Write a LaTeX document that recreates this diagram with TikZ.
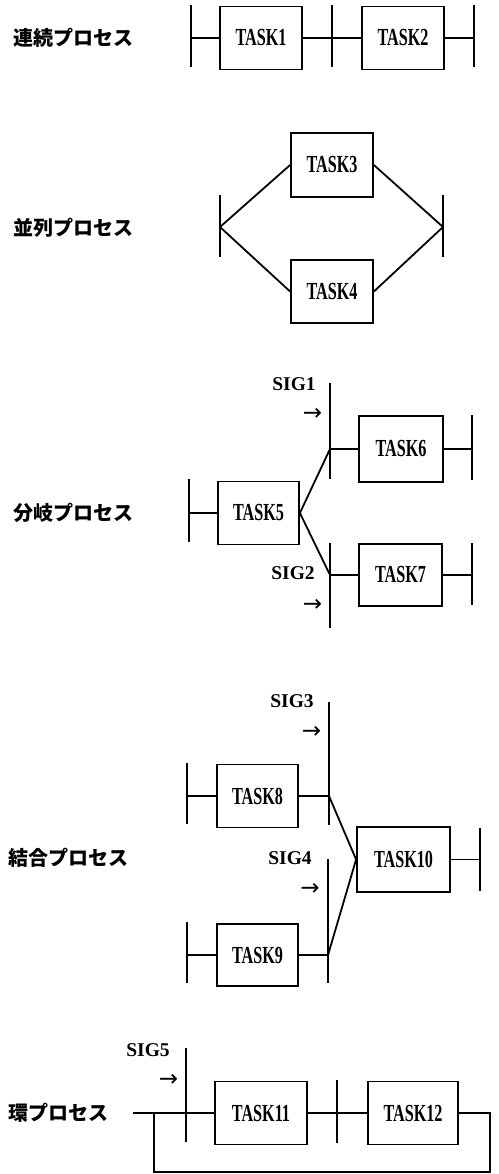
\documentclass[tikz,border=0pt]{standalone}
\usepackage{fontspec}
\usepackage{graphicx}
\newfontfamily\jpfont{Noto Sans CJK JP}
\newfontfamily\tkfont{Liberation Serif}
\newfontfamily\arfont{DejaVu Sans}
\newcommand\tk[1]{\scalebox{0.66}[1]{\tkfont\bfseries\fontsize{24.5}{24.5}\selectfont #1}}
\begin{document}
\begin{tikzpicture}[x=1pt,y=-1pt,
  box/.style={draw,line width=1.8pt,minimum width=82pt,minimum height=63pt,inner sep=0pt},
  ln/.style={line width=1.8pt},
  bar/.style={line width=2.2pt},
  lbl/.style={anchor=west,inner sep=0pt,font=\jpfont\bfseries\fontsize{20}{20}\selectfont},
  sig/.style={inner sep=0pt,font=\tkfont\bfseries\fontsize{19.5}{19.5}\selectfont},
  arr/.style={inner sep=0pt,font=\arfont\fontsize{23}{23}\selectfont}]
\useasboundingbox (0,0) rectangle (498,1174);

% ---------- 連続プロセス
\node[lbl] (L1) at (13,38) {連続プロセス};
\coordinate (a1) at (191,38);
\coordinate (a2) at (332,38);
\coordinate (a3) at (474,38);
\node[box] (t1) at (261,38) {\tk{TASK1}};
\node[box] (t2) at (403,38) {\tk{TASK2}};
\draw[bar] (a1) ++(0,-33) -- ++(0,62);
\draw[bar] (a2) ++(0,-33) -- ++(0,62);
\draw[bar] (a3) ++(0,-33) -- ++(0,62);
\draw[ln] (a1) -- (t1) -- (a2) -- (t2) -- (a3);

% ---------- 並列プロセス
\node[lbl] (L2) at (13,228) {並列プロセス};
\coordinate (p1) at (220,227);
\coordinate (p2) at (443,227);
\node[box,minimum height=64pt] (t3) at (332,165) {\tk{TASK3}};
\node[box] (t4) at (332,291.5) {\tk{TASK4}};
\draw[bar] (p1) ++(0,-32) -- ++(0,62);
\draw[bar] (p2) ++(0,-32) -- ++(0,62);
\draw[ln] (p1) -- (t3.west);
\draw[ln] (p1) -- (t4.west);
\draw[ln] (t3.east) -- (p2);
\draw[ln] (t4.east) -- (p2);

% ---------- 分岐プロセス
\node[lbl] (L3) at (13,513) {分岐プロセス};
\coordinate (q0) at (189,513);
\coordinate (q1) at (330,449);
\coordinate (q2) at (472,449);
\coordinate (q3) at (330,575);
\coordinate (q4) at (472,575);
\node[box,minimum width=81pt] (t5) at (258.5,513) {\tk{TASK5}};
\node[box,minimum width=84pt,minimum height=66pt] (t6) at (401,449) {\tk{TASK6}};
\node[box,minimum width=83pt,minimum height=62pt] (t7) at (400.5,575) {\tk{TASK7}};
\draw[bar] (q0) ++(0,-34) -- ++(0,63);
\draw[bar] (q1) ++(0,-66) -- ++(0,96);
\draw[bar] (q2) ++(0,-34) -- ++(0,65);
\draw[bar] (q3) ++(0,-32) -- ++(0,85);
\draw[bar] (q4) ++(0,-32) -- ++(0,62);
\draw[ln] (q0) -- (t5);
\draw[ln] (t5.east) -- (q1);
\draw[ln] (t5.east) -- (q3);
\draw[ln] (q1) -- (t6) -- (q2);
\draw[ln] (q3) -- (t7) -- (q4);
\node[sig] (s1) at (294,384) {SIG1};
\node[arr] (r1a) at (312.5,414) {→};
\node[sig] (s2) at (293,573) {SIG2};
\node[arr] (r2a) at (312.5,605) {→};

% ---------- 結合プロセス
\node[lbl] (L4) at (8,858) {結合プロセス};
\coordinate (r0) at (187,796);
\coordinate (r1) at (329,796);
\coordinate (r2) at (480,859.5);
\coordinate (r3) at (328,955);
\coordinate (r4) at (187,955);
\node[box,minimum width=81pt] (t8) at (257.5,796) {\tk{TASK8}};
\node[box,minimum width=81pt,minimum height=62pt] (t9) at (257.5,955) {\tk{TASK9}};
\node[box,minimum width=93pt,minimum height=65pt] (t10) at (403.5,859.5) {\tk{TASK10}};
\draw[bar] (r0) ++(0,-33) -- ++(0,61);
\draw[bar] (r1) ++(0,-94) -- ++(0,123);
\draw[bar] (r2) ++(0,-32) -- ++(0,63);
\draw[bar] (r3) ++(0,-96) -- ++(0,124);
\draw[bar] (r4) ++(0,-33) -- ++(0,61);
\draw[ln] (r0) -- (t8) -- (r1);
\draw[ln] (r1) -- (t10.west);
\draw[ln] (r3) -- (t10.west);
\draw[ln] (t10) -- (r2);
\draw[ln] (r4) -- (t9) -- (r3);
\node[sig] (s3) at (292,701) {SIG3};
\node[arr] (r3a) at (311.5,732) {→};
\node[sig] (s4) at (290,858) {SIG4};
\node[arr] (r4a) at (310,889) {→};

% ---------- 環プロセス
\node[lbl] (L5) at (8,1113) {環プロセス};
\coordinate (u0) at (133,1113);
\coordinate (u1) at (186,1113);
\coordinate (u2) at (337,1113);
\coordinate (u3) at (490,1113);
\coordinate (u4) at (490,1172);
\coordinate (u5) at (154,1172);
\coordinate (u6) at (154,1113);
\node[box,minimum width=92pt] (t11) at (261,1113) {\tk{TASK11}};
\node[box,minimum width=90pt] (t12) at (413,1113) {\tk{TASK12}};
\draw[bar] (u1) ++(0,-65) -- ++(0,94);
\draw[bar] (u2) ++(0,-33) -- ++(0,63);
\draw[ln] (u0) -- (u1) -- (t11) -- (u2) -- (t12) -- (u3) -- (u4) -- (u5) -- (u6);
\node[sig] (s5) at (148,1050) {SIG5};
\node[arr] (r5a) at (168.5,1080) {→};
\end{tikzpicture}
\end{document}
